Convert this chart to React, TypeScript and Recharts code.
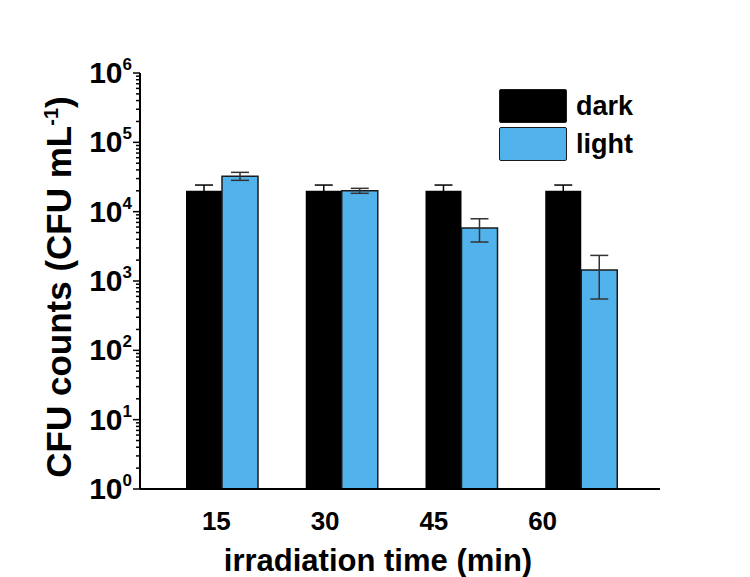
import { Bar, ComposedChart, ErrorBar, XAxis, YAxis } from "recharts";

const categories = ["15", "30", "45", "60"];
const darkValues = [20000, 20000, 20000, 20000];
const darkErrors: [number, number][] = [[4200, 4200], [4200, 4200], [4200, 4200], [4200, 4200]];
const lightValues = [32500, 20000, 5800, 1440];
const lightErrors: [number, number][] = [[4200, 4400], [1600, 1700], [2150, 2100], [890, 900]];
const decades = [1, 10, 100, 1000, 10000, 100000, 1000000];
const minorSteps = [2, 3, 4, 5, 6, 7, 8, 9];

const yTicks = [
  ...decades,
  ...decades.slice(0, -1).flatMap((d) => minorSteps.map((m) => d * m)),
].sort((a, b) => a - b);

const series = [
  { key: "dark", label: "dark", color: "#000000" },
  { key: "light", label: "light", color: "#52b3ec" },
] as const;

const data = categories.map((time, i) => ({
  time,
  dark: darkValues[i],
  darkErr: darkErrors[i],
  light: lightValues[i],
  lightErr: lightErrors[i],
}));

const font = "'Liberation Sans', Arial, sans-serif";

function YTick(props: { x: number; y: number; payload: { value: number } }) {
  const { x, y, payload } = props;
  const exp = decades.indexOf(payload.value);
  const major = exp >= 0;
  return (
    <g>
      <line x1={x - (major ? 7 : 4)} x2={x} y1={y} y2={y} stroke="#000" strokeWidth={1.5} />
      {major && (
        <text x={x - 8} y={y + 10} textAnchor="end" fontFamily={font} fontWeight="bold" fontSize={30} fill="#000">
          <tspan>10</tspan>
          <tspan dy={-13} fontSize={17}>{exp}</tspan>
        </text>
      )}
    </g>
  );
}

function XTick({ x, y, payload }: { x: number; y: number; payload: { value: string } }) {
  return (
    <text x={x} y={y + 33} textAnchor="middle" fontFamily={font} fontWeight="bold" fontSize={26} fill="#000">
      {payload.value}
    </text>
  );
}

export default function App() {
  return (
    <div style={{ position: "absolute", left: 0, top: 0, width: 750, height: 577, background: "#fff" }}>
      <ComposedChart width={750} height={577} data={data} margin={{ top: 73, right: 90, bottom: 0, left: 0 }} barGap={0}>
        <XAxis xAxisId="main" dataKey="time" hide padding={{ left: 22, right: 19 }} />
        <XAxis
          xAxisId="labels"
          dataKey="time"
          height={88}
          padding={{ left: 22, right: 63 }}
          axisLine={{ stroke: "#000", strokeWidth: 2 }}
          tickLine={false}
          tick={(p: any) => <XTick {...p} />}
          interval={0}
        />
        <XAxis xAxisId="top" orientation="top" dataKey="time" height={0} tick={false} tickLine={false} axisLine={{ stroke: "#000", strokeWidth: 2 }} />
        <YAxis
          yAxisId="left"
          scale="log"
          domain={[1, 1000000]}
          ticks={yTicks}
          interval={0}
          width={140}
          tickSize={0}
          tickMargin={0}
          tickLine={false}
          tick={(p: any) => <YTick {...p} />}
          axisLine={{ stroke: "#000", strokeWidth: 2 }}
        />
        <YAxis yAxisId="right" orientation="right" scale="log" domain={[1, 1000000]} width={0} tick={false} tickLine={false} axisLine={{ stroke: "#000", strokeWidth: 2 }} />
        <Bar xAxisId="main" yAxisId="left" dataKey="dark" fill={series[0].color} barSize={36} isAnimationActive={false}>
          <ErrorBar dataKey="darkErr" width={9} stroke="#000" strokeWidth={1.5} direction="y" />
        </Bar>
        <Bar xAxisId="main" yAxisId="left" dataKey="light" fill={series[1].color} stroke="#1a1a1a" strokeWidth={1.5} barSize={36} isAnimationActive={false}>
          <ErrorBar dataKey="lightErr" width={9} stroke="#333" strokeWidth={1.5} direction="y" />
        </Bar>
      </ComposedChart>

      <div style={{ position: "absolute", left: 499, top: 88, fontFamily: font, fontWeight: "bold", fontSize: 27 }}>
        {series.map((s) => (
          <div key={s.key} style={{ display: "flex", alignItems: "center", height: 36, marginBottom: 2 }}>
            <i style={{ display: "inline-block", width: 66, height: 32, background: s.color, border: "1.5px solid #1a1a1a", borderRadius: 2 }} />
            <span style={{ marginLeft: 9 }}>{s.label}</span>
          </div>
        ))}
      </div>

      <div
        style={{
          position: "absolute",
          left: 59,
          top: 287,
          transform: "translate(-50%, -50%) rotate(-90deg)",
          whiteSpace: "nowrap",
          fontFamily: font,
          fontWeight: "bold",
          fontSize: 35,
        }}
      >
        CFU counts (CFU mL<sup style={{ fontSize: 20 }}>-1</sup>)
      </div>

      <div
        style={{
          position: "absolute",
          left: 378,
          top: 561,
          transform: "translate(-50%, -50%)",
          whiteSpace: "nowrap",
          fontFamily: font,
          fontWeight: "bold",
          fontSize: 31,
        }}
      >
        irradiation time (min)
      </div>
    </div>
  );
}
